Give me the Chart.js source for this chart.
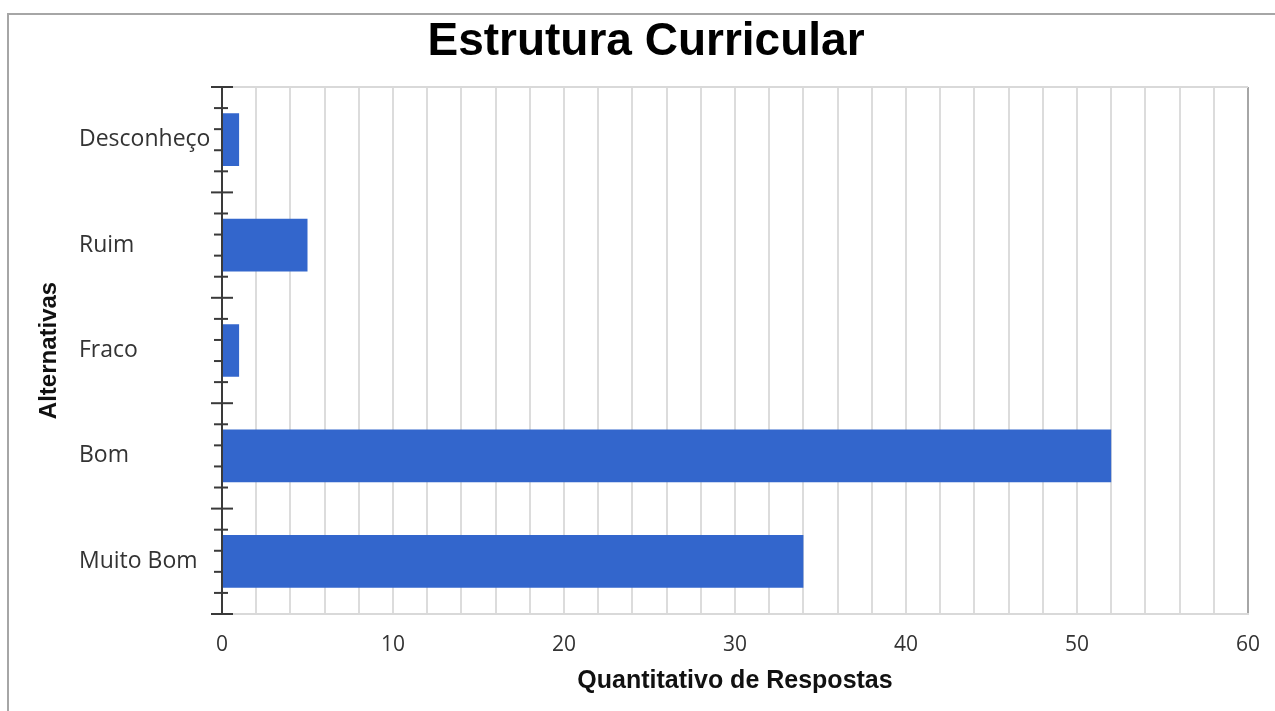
<!DOCTYPE html>
<html>
<head>
<meta charset="utf-8">
<script src="https://cdn.jsdelivr.net/npm/chart.js@4"></script>
<style>
  html, body { margin: 0; padding: 0; background: #fff; overflow: hidden; }
  #frame { position: absolute; left: 7px; top: 13px; width: 1400px; height: 900px; border: 2px solid #a6a6a6; box-sizing: border-box; }
  #c { position: absolute; left: 0; top: 0; }
</style>
</head>
<body>
<div id="frame"></div>
<canvas id="c" width="1275" height="711"></canvas>
<script>
const chartTitle = 'Estrutura Curricular';
const categories = ['Desconheço', 'Ruim', 'Fraco', 'Bom', 'Muito Bom'];
const responses = [1, 5, 1, 52, 34];
const xAxisTitle = 'Quantitativo de Respostas';
const yAxisTitle = 'Alternativas';
const xMin = 0, xMax = 60, xGridStep = 2, xLabelStep = 10;

const axisTicksPlugin = {
  id: 'axisTicks',
  beforeDatasetsDraw(chart) {
    const ctx = chart.ctx;
    const y = chart.scales.y, x = chart.scales.x;
    const ax = x.getPixelForValue(0);
    ctx.save();
    ctx.strokeStyle = '#d9d9d9';
    ctx.lineWidth = 2;
    ctx.beginPath();
    ctx.moveTo(ax, chart.chartArea.top);
    ctx.lineTo(x.getPixelForValue(xMax), chart.chartArea.top);
    ctx.stroke();
    ctx.strokeStyle = '#3a3a3a';
    ctx.lineWidth = 2;
    for (let i = 0; i <= categories.length; i++) {
      const p = y.getPixelForValue(i - 0.5);
      ctx.beginPath();
      ctx.moveTo(ax - 11, p);
      ctx.lineTo(ax + 11, p);
      ctx.stroke();
      if (i < categories.length) {
        for (let k = 1; k < 5; k++) {
          const q = y.getPixelForValue(i - 0.5 + k * 0.2);
          ctx.beginPath();
          ctx.moveTo(ax - 8, q);
          ctx.lineTo(ax + 6, q);
          ctx.stroke();
        }
      }
    }
    ctx.restore();
  }
};

new Chart(document.getElementById('c'), {
  type: 'bar',
  data: {
    labels: categories,
    datasets: [{
      data: responses,
      backgroundColor: '#3366cc',
      borderWidth: 0,
      barPercentage: 0.5,
      categoryPercentage: 1.0
    }]
  },
  plugins: [axisTicksPlugin],
  options: {
    indexAxis: 'y',
    responsive: false,
    animation: false,
    devicePixelRatio: 1,
    layout: { padding: { left: 44, right: 27, top: 0, bottom: 0 } },
    plugins: {
      legend: { display: false },
      tooltip: { enabled: false },
      title: {
        display: true,
        text: chartTitle,
        color: '#000',
        font: { family: '"Liberation Sans", Arial, sans-serif', size: 46, weight: 'bold', lineHeight: 1.2 },
        padding: { top: 15, bottom: 16.8 }
      }
    },
    scales: {
      x: {
        type: 'linear',
        position: 'bottom',
        min: xMin,
        max: xMax,
        afterFit(s) { s.height = 97; },
        ticks: {
          stepSize: xGridStep,
          autoSkip: false,
          maxRotation: 0,
          padding: 4,
          color: '#333',
          font: { family: '"Open Sans", sans-serif', size: 21 },
          callback: (v) => (v % xLabelStep === 0 ? String(v) : '')
        },
        grid: {
          drawTicks: true,
          tickLength: 14,
          tickColor: 'rgba(0,0,0,0)',
          lineWidth: 2,
          color: (c) => c.tick && c.tick.value === xMin ? 'rgba(0,0,0,0)' : (c.tick && c.tick.value === xMax ? '#a6a6a6' : '#dcdcdc')
        },
        border: { display: true, color: '#d9d9d9', width: 2 },
        title: {
          display: true,
          text: xAxisTitle,
          color: '#111',
          font: { family: '"Liberation Sans", Arial, sans-serif', size: 25, weight: 'bold', lineHeight: 1.2 },
          padding: { top: 0, bottom: 15 }
        }
      },
      y: {
        type: 'category',
        position: 'left',
        weight: 0,
        offset: true,
        afterFit(s) { s.width = 143; },
        grid: { display: false, drawTicks: false },
        border: { display: true, color: '#3a3a3a', width: 2 },
        ticks: {
          crossAlign: 'far',
          color: '#333',
          font: { family: '"Open Sans", sans-serif', size: 23 }
        }
      },
      yt: {
        type: 'linear',
        position: 'left',
        weight: 1,
        afterFit(s) { s.width = 35; },
        grid: { display: false, drawTicks: false },
        border: { display: false },
        ticks: { display: false },
        title: {
          display: true,
          text: yAxisTitle,
          color: '#111',
          font: { family: '"Liberation Sans", Arial, sans-serif', size: 24, weight: 'bold', lineHeight: 1.2 },
          padding: { top: -9.4, bottom: 0 }
        }
      }
    }
  }
});
</script>
</body>
</html>
